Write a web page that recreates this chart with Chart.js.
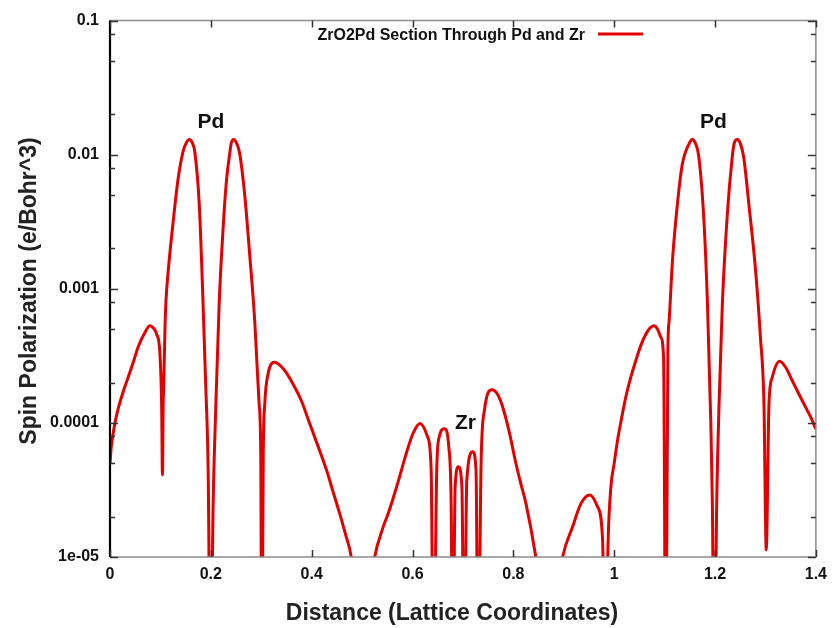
<!DOCTYPE html>
<html>
<head>
<meta charset="utf-8">
<script src="https://cdn.jsdelivr.net/npm/chart.js@4.4.1/dist/chart.umd.min.js"></script>
<style>
  html, body { margin: 0; padding: 0; background: #fff; }
  #chart { display: block; }
</style>
</head>
<body>
<canvas id="chart" width="835" height="628"></canvas>
<script>
// values (dips that fall below the axis get a tiny value)
const distance = [
  0.000, 0.0025, 0.0066, 0.011, 0.0165, 0.026, 0.036, 0.046, 0.056, 0.069,
  0.079, 0.086, 0.0924, 0.099, 0.1025, 0.104, 0.1055, 0.1065, 0.109, 0.111,
  0.1155, 0.1254, 0.1353, 0.145, 0.151, 0.157, 0.1635, 0.168, 0.177, 0.1835,
  0.190, 0.1947, 0.1994, 0.2046, 0.210, 0.2165, 0.2244, 0.231, 0.2376, 0.2405,
  0.2455, 0.251, 0.257, 0.267, 0.277, 0.287, 0.2957, 0.299, 0.301, 0.304,
  0.307, 0.3135, 0.3267, 0.345, 0.363, 0.380, 0.396, 0.412, 0.429, 0.442,
  0.455, 0.467, 0.4785, 0.500, 0.525, 0.540, 0.554, 0.572, 0.5875, 0.6007,
  0.615, 0.630, 0.637, 0.6416, 0.648, 0.653, 0.6634, 0.672, 0.6766, 0.680,
  0.6845, 0.691, 0.698, 0.7023, 0.7076, 0.7195, 0.726, 0.730, 0.736, 0.7426,
  0.758, 0.768, 0.779, 0.792, 0.805, 0.815, 0.825, 0.8436, 0.870, 0.8977,
  0.9175, 0.934, 0.952, 0.967, 0.977, 0.982, 0.988, 0.9934, 1.000, 1.0066,
  1.015, 1.023, 1.033, 1.043, 1.053, 1.063, 1.071, 1.079, 1.086, 1.0925,
  1.098, 1.1023, 1.1065, 1.109, 1.1155, 1.1254, 1.135, 1.149, 1.155, 1.161,
  1.168, 1.178, 1.185, 1.1915, 1.1947, 1.1986, 1.2033, 1.208, 1.2145, 1.2244,
  1.234, 1.238, 1.244, 1.250, 1.257, 1.267, 1.2805, 1.290, 1.297, 1.3016,
  1.307, 1.3135, 1.328, 1.340, 1.353, 1.366, 1.3795, 1.390, 1.400
];
const spinPol = [
  5.0e-5, 6.6e-5, 8.5e-5, 1.05e-4, 1.29e-4, 1.7e-4, 2.19e-4, 2.82e-4, 3.7e-4, 4.7e-4,
  5.3e-4, 5.1e-4, 4.6e-4, 3.3e-4, 1.3e-4, 4.1e-5, 1.4e-4, 1.85e-4, 5.0e-4, 8.1e-4,
  1.36e-3, 3.2e-3, 6.7e-3, 1.06e-2, 1.22e-2, 1.30e-2, 1.22e-2, 1.06e-2, 4.3e-3, 1.02e-3,
  1.85e-4, 4.4e-5, 1e-6, 2.5e-5, 1.39e-4, 7.7e-4, 2.86e-3, 6.4e-3, 1.03e-2, 1.22e-2,
  1.30e-2, 1.22e-2, 1.03e-2, 5.1e-3, 1.81e-3, 5.8e-4, 1.39e-4, 5.9e-5, 1e-6, 6.0e-5,
  1.39e-4, 2.32e-4, 2.83e-4, 2.5e-4, 1.95e-4, 1.45e-4, 9.9e-5, 6.8e-5, 4.5e-5, 3.1e-5,
  2.14e-5, 1.48e-5, 1.0e-5, 2e-6, 1.0e-5, 1.6e-5, 2.23e-5, 3.7e-5, 5.9e-5, 8.3e-5,
  9.9e-5, 7.85e-5, 4.4e-5, 1e-6, 4.4e-5, 7.85e-5, 9.05e-5, 6.6e-5, 2.5e-5, 1e-6,
  3.33e-5, 4.7e-5, 3.33e-5, 1e-6, 3.7e-5, 6.1e-5, 4.4e-5, 1e-6, 5.0e-5, 1.24e-4,
  1.77e-4, 1.65e-4, 1.31e-4, 8.5e-5, 5.0e-5, 3.5e-5, 2.5e-5, 1.05e-5, 2e-6, 1.0e-5,
  1.68e-5, 2.5e-5, 2.9e-5, 2.37e-5, 1.34e-5, 1e-6, 1.34e-5, 3.33e-5, 5.0e-5, 7.4e-5,
  1.1e-4, 1.56e-4, 2.2e-4, 2.92e-4, 3.8e-4, 4.6e-4, 5.1e-4, 5.3e-4, 5.0e-4, 4.35e-4,
  3.0e-4, 1e-6, 3.5e-4, 5.8e-4, 1.61e-3, 4.3e-3, 8.45e-3, 1.22e-2, 1.30e-2, 1.22e-2,
  9.5e-3, 3.2e-3, 7.7e-4, 1.04e-4, 2.5e-5, 1e-6, 2.5e-5, 1.39e-4, 7.7e-4, 3.6e-3,
  9.5e-3, 1.22e-2, 1.30e-2, 1.22e-2, 9.5e-3, 4.3e-3, 1.36e-3, 4.35e-4, 1.39e-4, 1.13e-5,
  1.39e-4, 2.19e-4, 2.88e-4, 2.6e-4, 2.07e-4, 1.65e-4, 1.31e-4, 1.1e-4, 9.0e-5
];

const xTicks = [0, 0.2, 0.4, 0.6, 0.8, 1.0, 1.2, 1.4];
const xTickLabels = ['0', '0.2', '0.4', '0.6', '0.8', '1', '1.2', '1.4'];
const yTicks = [1e-5, 1e-4, 1e-3, 1e-2, 1e-1];
const yTickLabels = ['1e-05', '0.0001', '0.001', '0.01', '0.1'];
const yMinorSteps = [2, 5, 8];

const seriesName = 'ZrO2Pd Section Through Pd and Zr';
const xTitle = 'Distance (Lattice Coordinates)';
const yTitle = 'Spin Polarization (e/Bohr^3)';

const FONT = '"Liberation Sans", Arial, Helvetica, sans-serif';
const RED = 'rgb(226,0,0)';

// frame, inward ticks, labels, legend and axis titles (gnuplot look)
const decorPlugin = {
  id: 'decor',
  afterDatasetsDraw(chart) {
    const ctx = chart.ctx;
    const a = chart.chartArea;
    const xs = chart.scales.x, ys = chart.scales.y;
    ctx.save();

    // frame
    ctx.lineWidth = 1.5;
    ctx.strokeStyle = '#8c8c8c';
    ctx.beginPath();
    ctx.moveTo(a.left, a.bottom); ctx.lineTo(a.right, a.bottom);
    ctx.lineTo(a.right, a.top); ctx.lineTo(a.left, a.top);
    ctx.stroke();
    ctx.lineWidth = 2.2;
    ctx.strokeStyle = '#000';
    ctx.beginPath();
    ctx.moveTo(a.left, a.top); ctx.lineTo(a.left, a.bottom);
    ctx.stroke();

    // x ticks, top and bottom
    ctx.lineWidth = 1.5;
    ctx.strokeStyle = '#333';
    xTicks.forEach(v => {
      const px = Math.round(xs.getPixelForValue(v)) + 0.5;
      ctx.beginPath();
      ctx.moveTo(px, a.bottom); ctx.lineTo(px, a.bottom - 7);
      ctx.moveTo(px, a.top); ctx.lineTo(px, a.top + 7);
      ctx.stroke();
    });

    // y ticks, left and right (major + minor)
    yTicks.forEach((v, i) => {
      const py = Math.round(ys.getPixelForValue(v)) + 0.5;
      ctx.beginPath();
      ctx.moveTo(a.left, py); ctx.lineTo(a.left + 8, py);
      ctx.moveTo(a.right, py); ctx.lineTo(a.right - 8, py);
      ctx.stroke();
      if (i < yTicks.length - 1) {
        yMinorSteps.forEach(m => {
          const q = Math.round(ys.getPixelForValue(v * m)) + 0.5;
          ctx.beginPath();
          ctx.moveTo(a.left, q); ctx.lineTo(a.left + 5, q);
          ctx.moveTo(a.right, q); ctx.lineTo(a.right - 5, q);
          ctx.stroke();
        });
      }
    });

    // atom labels
    ctx.fillStyle = '#111';
    ctx.font = 'bold 21px ' + FONT;
    ctx.textAlign = 'center';
    ctx.textBaseline = 'alphabetic';
    ctx.fillText('Pd', xs.getPixelForValue(0.2), ys.getPixelForValue(0.0157));
    ctx.fillText('Pd', xs.getPixelForValue(1.197), ys.getPixelForValue(0.0157));
    ctx.fillText('Zr', xs.getPixelForValue(0.705), ys.getPixelForValue(8.95e-5));

    // legend (key inside, top)
    ctx.font = 'bold 16px ' + FONT;
    ctx.textAlign = 'right';
    ctx.fillText(seriesName, 585, 40);
    ctx.strokeStyle = RED;
    ctx.lineWidth = 3;
    ctx.beginPath();
    ctx.moveTo(598, 34); ctx.lineTo(643, 34);
    ctx.stroke();

    // axis titles
    ctx.fillStyle = '#222';
    ctx.font = 'bold 23px ' + FONT;
    ctx.textAlign = 'center';
    ctx.fillText(xTitle, 452, 620);
    ctx.save();
    ctx.translate(36, 291);
    ctx.rotate(-Math.PI / 2);
    ctx.fillText(yTitle, 0, 0);
    ctx.restore();

    ctx.restore();
  }
};

const points = distance.map((d, i) => ({ x: d, y: spinPol[i] }));

new Chart(document.getElementById('chart'), {
  type: 'line',
  data: {
    datasets: [{
      label: seriesName,
      data: points,
      borderColor: RED,
      borderWidth: 3,
      pointRadius: 0,
      fill: false,
      cubicInterpolationMode: 'monotone',
      clip: 0
    }]
  },
  options: {
    responsive: false,
    animation: false,
    devicePixelRatio: 1,
    layout: { padding: { top: 19, right: 18, left: 0, bottom: 0 } },
    plugins: { legend: { display: false }, tooltip: { enabled: false } },
    scales: {
      x: {
        type: 'linear',
        min: 0,
        max: 1.4,
        afterBuildTicks: s => { s.ticks = xTicks.map(v => ({ value: v })); },
        afterFit: s => { s.height = 71; },
        grid: { drawOnChartArea: false, drawTicks: false },
        border: { display: false },
        ticks: {
          autoSkip: false,
          maxRotation: 0,
          padding: 8,
          color: '#111',
          font: { family: FONT, size: 16, weight: 'bold' },
          callback: (v, i) => xTickLabels[i]
        }
      },
      y: {
        type: 'logarithmic',
        min: 1e-5,
        max: 0.1,
        afterBuildTicks: s => { s.ticks = yTicks.map(v => ({ value: v })); },
        afterFit: s => { s.width = 110; },
        grid: { drawOnChartArea: false, drawTicks: false },
        border: { display: false },
        ticks: {
          autoSkip: false,
          padding: 11,
          color: '#111',
          font: { family: FONT, size: 16, weight: 'bold' },
          callback: (v, i) => yTickLabels[i]
        }
      }
    }
  },
  plugins: [decorPlugin]
});
</script>
</body>
</html>
